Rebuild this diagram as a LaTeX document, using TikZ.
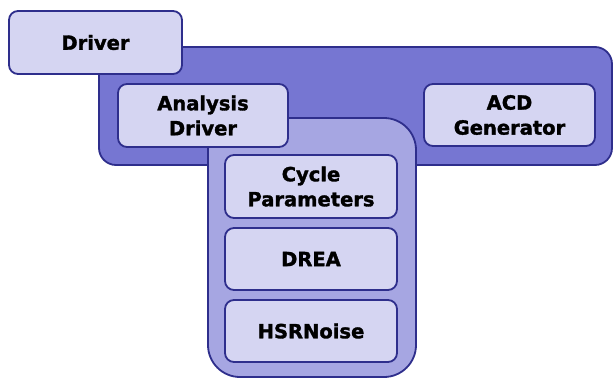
\documentclass[tikz,border=0pt]{standalone}
\usepackage{fontspec}
\setmainfont{DejaVu Sans}
\newfontfamily\lblfont[FakeBold=1.6]{DejaVu Sans Bold}
\definecolor{bdr}{HTML}{2E2E8C}
\definecolor{darkfill}{HTML}{7676D2}
\definecolor{midfill}{HTML}{A6A6E2}
\definecolor{lightfill}{HTML}{D5D5F2}
\tikzset{
  cont/.style={draw=bdr, line width=1.8pt, inner sep=0pt},
  box/.style={draw=bdr, line width=1.8pt, fill=lightfill, rounded corners=9pt,
    inner sep=0pt, align=center, font=\lblfont\fontsize{19.5}{25}\selectfont, text=black}
}
\begin{document}
\begin{tikzpicture}[x=1pt,y=-1pt]
\useasboundingbox (0,0) rectangle (613,381);
\node[cont, fill=darkfill, rounded corners=17pt, minimum width=513pt, minimum height=118pt] (outer) at (355.5,106) {};
\node[box, minimum width=173pt, minimum height=63pt] (driver) at (95.5,42.5) {Driver};
\node[cont, fill=midfill, rounded corners=32pt, minimum width=208pt, minimum height=259pt] (inner) at (312,247.5) {};
\node[box, minimum width=170pt, minimum height=63pt] (analysis) at (203,115.5) {Analysis\\Driver};
\node[box, minimum width=171pt, minimum height=62pt] (acd) at (509.5,115) {ACD\\Generator};
\node[box, minimum width=172pt, minimum height=63pt] (cycle) at (311,186.5) {Cycle\\Parameters};
\node[box, minimum width=172pt, minimum height=62pt] (drea) at (311,259) {DREA};
\node[box, minimum width=172pt, minimum height=62pt] (hsr) at (311,331) {HSRNoise};
\end{tikzpicture}
\end{document}
